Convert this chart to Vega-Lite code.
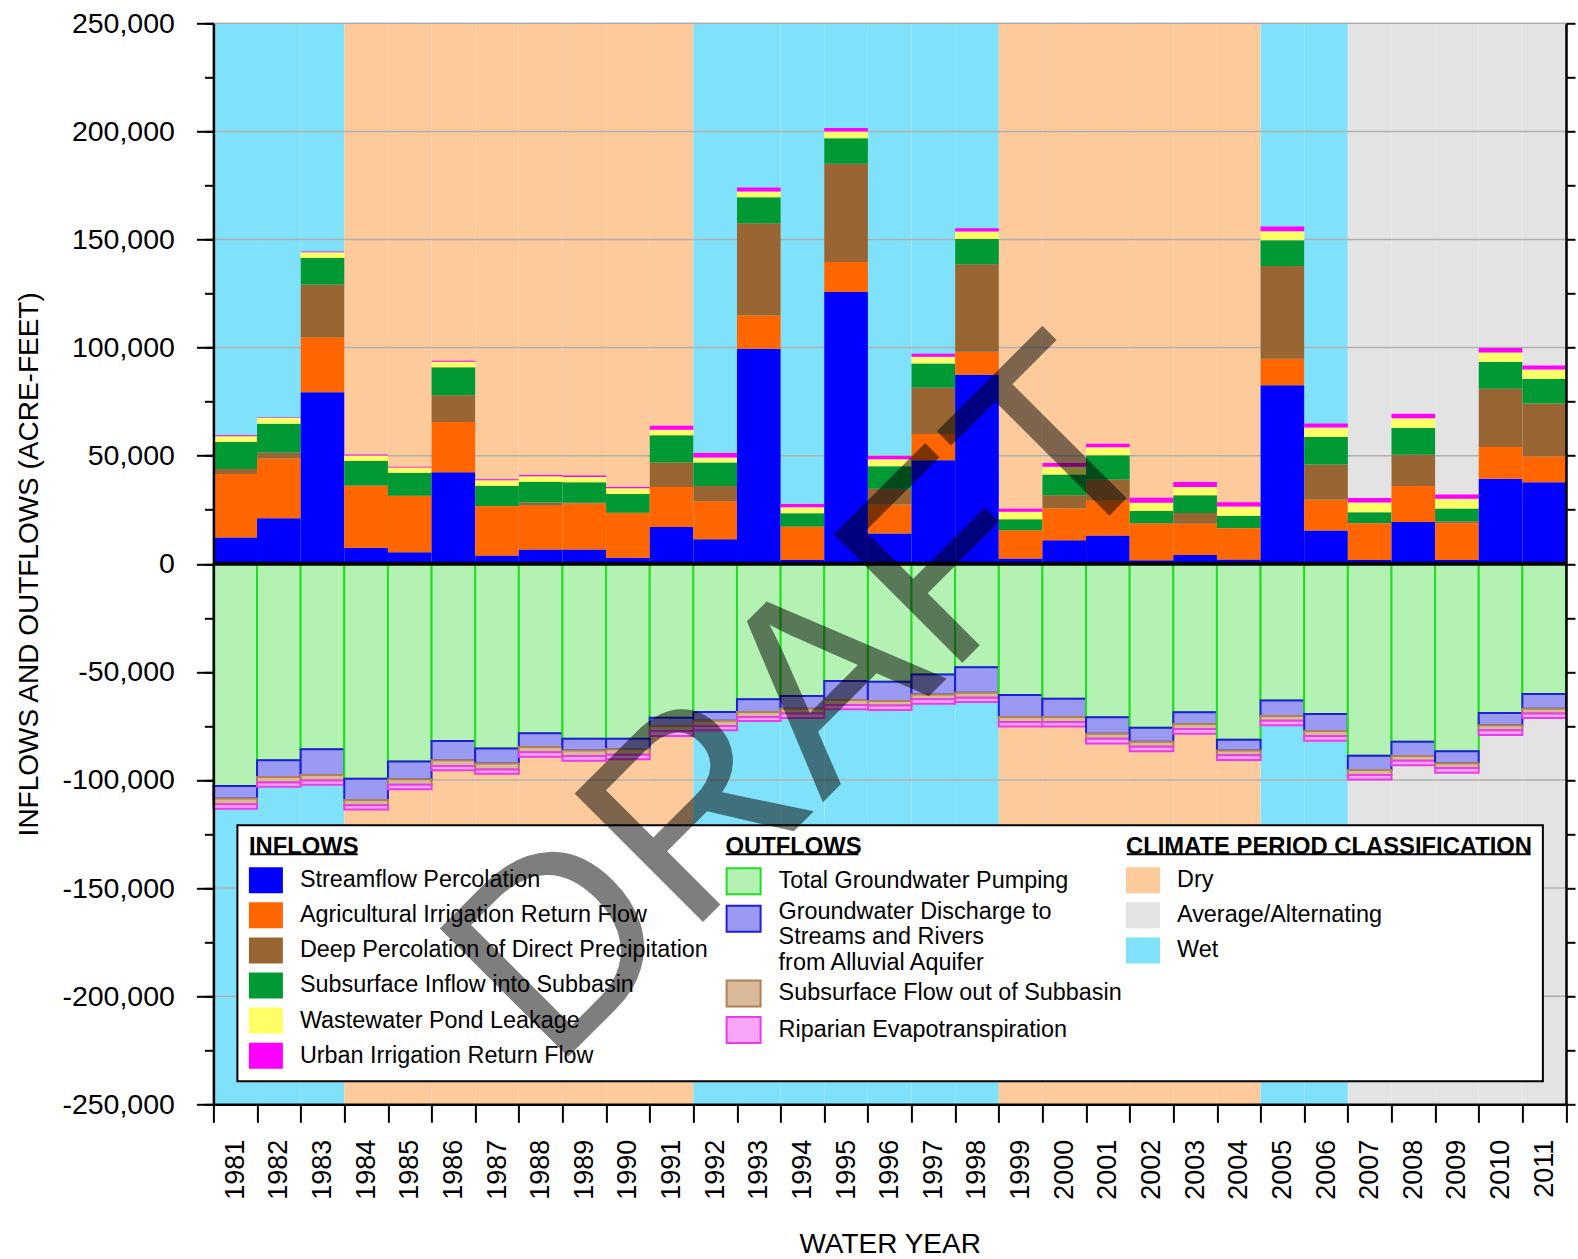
{
  "$schema": "https://vega.github.io/schema/vega-lite/v6.json",
  "width": 1352.6,
  "height": 1081,
  "autosize": {"type": "none"},
  "padding": {"left": 213.4, "top": 23.3, "right": 12, "bottom": 155},
  "background": "white",
  "config": {
    "view": {"stroke": null},
    "font": "Liberation Sans",
    "axis": {"labelFont": "Liberation Sans", "titleFont": "Liberation Sans"},
    "legend": {
      "orient": "none",
      "padding": 0,
      "titleFont": "Liberation Sans",
      "titleFontSize": 23.8,
      "titleFontWeight": "bold",
      "titleColor": "black",
      "titleLimit": 1000,
      "titlePadding": 4.6,
      "labelFont": "Liberation Sans",
      "labelFontSize": 23.4,
      "labelColor": "black",
      "labelLimit": 1000,
      "labelOffset": 17,
      "symbolType": "M-1,-0.765H1V0.765H-1Z",
      "symbolSize": 1156,
      "symbolStrokeWidth": 0,
      "symbolOpacity": 1,
      "rowPadding": 4.1
    }
  },
  "datasets": {
    "climate": [
      {"year": 1981, "period": "Wet"}, {"year": 1982, "period": "Wet"}, {"year": 1983, "period": "Wet"},
      {"year": 1984, "period": "Dry"}, {"year": 1985, "period": "Dry"}, {"year": 1986, "period": "Dry"},
      {"year": 1987, "period": "Dry"}, {"year": 1988, "period": "Dry"}, {"year": 1989, "period": "Dry"},
      {"year": 1990, "period": "Dry"}, {"year": 1991, "period": "Dry"},
      {"year": 1992, "period": "Wet"}, {"year": 1993, "period": "Wet"}, {"year": 1994, "period": "Wet"},
      {"year": 1995, "period": "Wet"}, {"year": 1996, "period": "Wet"}, {"year": 1997, "period": "Wet"},
      {"year": 1998, "period": "Wet"},
      {"year": 1999, "period": "Dry"}, {"year": 2000, "period": "Dry"}, {"year": 2001, "period": "Dry"},
      {"year": 2002, "period": "Dry"}, {"year": 2003, "period": "Dry"}, {"year": 2004, "period": "Dry"},
      {"year": 2005, "period": "Wet"}, {"year": 2006, "period": "Wet"},
      {"year": 2007, "period": "Average/Alternating"}, {"year": 2008, "period": "Average/Alternating"},
      {"year": 2009, "period": "Average/Alternating"}, {"year": 2010, "period": "Average/Alternating"},
      {"year": 2011, "period": "Average/Alternating"}
    ],
    "inflowParts": [
      {"key": "SP", "label": "Streamflow Percolation", "rank": 1},
      {"key": "AG", "label": "Agricultural Irrigation Return Flow", "rank": 2},
      {"key": "DP", "label": "Deep Percolation of Direct Precipitation", "rank": 3},
      {"key": "SI", "label": "Subsurface Inflow into Subbasin", "rank": 4},
      {"key": "WW", "label": "Wastewater Pond Leakage", "rank": 5},
      {"key": "UI", "label": "Urban Irrigation Return Flow", "rank": 6}
    ],
    "outflowParts": [
      {"key": "TGP", "label": "Total Groundwater Pumping", "rank": 1},
      {"key": "GD", "label": "Groundwater Discharge to Streams and Rivers from Alluvial Aquifer", "rank": 2},
      {"key": "SF", "label": "Subsurface Flow out of Subbasin", "rank": 3},
      {"key": "RE", "label": "Riparian Evapotranspiration", "rank": 4}
    ],
    "inflows": [
      {"year": 1981, "SP": 12200, "AG": 29300, "DP": 2300, "SI": 12500, "WW": 2700, "UI": 500},
      {"year": 1982, "SP": 21100, "AG": 27600, "DP": 2800, "SI": 13300, "WW": 2600, "UI": 300},
      {"year": 1983, "SP": 79300, "AG": 25500, "DP": 24400, "SI": 12200, "WW": 2700, "UI": 300},
      {"year": 1984, "SP": 7400, "AG": 28600, "DP": 200, "SI": 11400, "WW": 2500, "UI": 500},
      {"year": 1985, "SP": 5300, "AG": 26100, "DP": 100, "SI": 10600, "WW": 2400, "UI": 400},
      {"year": 1986, "SP": 42300, "AG": 23300, "DP": 12400, "SI": 12900, "WW": 2500, "UI": 500},
      {"year": 1987, "SP": 3800, "AG": 22800, "DP": 100, "SI": 9400, "WW": 2500, "UI": 500},
      {"year": 1988, "SP": 6600, "AG": 20300, "DP": 1500, "SI": 9600, "WW": 2500, "UI": 600},
      {"year": 1989, "SP": 6600, "AG": 21300, "DP": 300, "SI": 9500, "WW": 2500, "UI": 600},
      {"year": 1990, "SP": 2800, "AG": 20700, "DP": 100, "SI": 8700, "WW": 2700, "UI": 500},
      {"year": 1991, "SP": 17000, "AG": 18500, "DP": 11300, "SI": 12700, "WW": 2500, "UI": 1800},
      {"year": 1992, "SP": 11400, "AG": 17500, "DP": 7100, "SI": 10800, "WW": 2400, "UI": 2000},
      {"year": 1993, "SP": 99500, "AG": 15500, "DP": 42500, "SI": 12000, "WW": 2700, "UI": 1800},
      {"year": 1994, "SP": 1700, "AG": 15500, "DP": 100, "SI": 6100, "WW": 2800, "UI": 1500},
      {"year": 1995, "SP": 125700, "AG": 13900, "DP": 45400, "SI": 11800, "WW": 3100, "UI": 1700},
      {"year": 1996, "SP": 14000, "AG": 13400, "DP": 7300, "SI": 10400, "WW": 3300, "UI": 1500},
      {"year": 1997, "SP": 47900, "AG": 12100, "DP": 21500, "SI": 11200, "WW": 3100, "UI": 1400},
      {"year": 1998, "SP": 87400, "AG": 10700, "DP": 40500, "SI": 11600, "WW": 3500, "UI": 1500},
      {"year": 1999, "SP": 2500, "AG": 12900, "DP": 100, "SI": 5100, "WW": 3500, "UI": 1400},
      {"year": 2000, "SP": 10900, "AG": 14700, "DP": 6100, "SI": 9600, "WW": 3600, "UI": 1700},
      {"year": 2001, "SP": 13100, "AG": 16100, "DP": 9800, "SI": 11200, "WW": 3700, "UI": 1600},
      {"year": 2002, "SP": 1600, "AG": 17100, "DP": 100, "SI": 5600, "WW": 3800, "UI": 2300},
      {"year": 2003, "SP": 4100, "AG": 14400, "DP": 5000, "SI": 8200, "WW": 3800, "UI": 2300},
      {"year": 2004, "SP": 2000, "AG": 14500, "DP": 100, "SI": 5600, "WW": 4300, "UI": 2000},
      {"year": 2005, "SP": 82600, "AG": 12200, "DP": 43000, "SI": 11900, "WW": 4100, "UI": 2200},
      {"year": 2006, "SP": 15400, "AG": 14300, "DP": 16200, "SI": 12800, "WW": 4400, "UI": 1800},
      {"year": 2007, "SP": 1700, "AG": 17000, "DP": 200, "SI": 4900, "WW": 4600, "UI": 2000},
      {"year": 2008, "SP": 19300, "AG": 16700, "DP": 14400, "SI": 12400, "WW": 4500, "UI": 2100},
      {"year": 2009, "SP": 1700, "AG": 17100, "DP": 900, "SI": 5900, "WW": 4500, "UI": 2000},
      {"year": 2010, "SP": 39300, "AG": 14700, "DP": 27000, "SI": 12400, "WW": 4300, "UI": 2100},
      {"year": 2011, "SP": 37700, "AG": 11900, "DP": 24600, "SI": 11400, "WW": 4300, "UI": 1800}
    ],
    "outflows": [
      {"year": 1981, "TGP": -102800, "GD": -5800, "SF": -2600, "RE": -2100},
      {"year": 1982, "TGP": -90900, "GD": -7700, "SF": -2600, "RE": -1900},
      {"year": 1983, "TGP": -85800, "GD": -11900, "SF": -2500, "RE": -2000},
      {"year": 1984, "TGP": -99400, "GD": -9800, "SF": -2500, "RE": -1900},
      {"year": 1985, "TGP": -91500, "GD": -8200, "SF": -2500, "RE": -2100},
      {"year": 1986, "TGP": -82000, "GD": -8900, "SF": -2600, "RE": -2000},
      {"year": 1987, "TGP": -85400, "GD": -7000, "SF": -2700, "RE": -2000},
      {"year": 1988, "TGP": -78400, "GD": -6300, "SF": -2500, "RE": -2000},
      {"year": 1989, "TGP": -80900, "GD": -5400, "SF": -2600, "RE": -2200},
      {"year": 1990, "TGP": -80900, "GD": -4900, "SF": -2500, "RE": -2100},
      {"year": 1991, "TGP": -71200, "GD": -3800, "SF": -2300, "RE": -2400},
      {"year": 1992, "TGP": -68600, "GD": -4000, "SF": -2400, "RE": -2000},
      {"year": 1993, "TGP": -62700, "GD": -5900, "SF": -2300, "RE": -1800},
      {"year": 1994, "TGP": -61200, "GD": -5800, "SF": -2200, "RE": -2100},
      {"year": 1995, "TGP": -54200, "GD": -8800, "SF": -2300, "RE": -2000},
      {"year": 1996, "TGP": -54500, "GD": -9000, "SF": -2000, "RE": -2100},
      {"year": 1997, "TGP": -51200, "GD": -9200, "SF": -2300, "RE": -2000},
      {"year": 1998, "TGP": -47800, "GD": -11800, "SF": -2300, "RE": -2000},
      {"year": 1999, "TGP": -60700, "GD": -10200, "SF": -2300, "RE": -2100},
      {"year": 2000, "TGP": -62400, "GD": -8500, "SF": -2300, "RE": -2000},
      {"year": 2001, "TGP": -71000, "GD": -7600, "SF": -2300, "RE": -2200},
      {"year": 2002, "TGP": -75800, "GD": -6500, "SF": -2300, "RE": -2100},
      {"year": 2003, "TGP": -68700, "GD": -5400, "SF": -2300, "RE": -2200},
      {"year": 2004, "TGP": -81400, "GD": -4900, "SF": -2300, "RE": -2200},
      {"year": 2005, "TGP": -63200, "GD": -7200, "SF": -2200, "RE": -2100},
      {"year": 2006, "TGP": -69500, "GD": -7800, "SF": -2400, "RE": -2100},
      {"year": 2007, "TGP": -88800, "GD": -6600, "SF": -2300, "RE": -2100},
      {"year": 2008, "TGP": -82300, "GD": -6600, "SF": -2200, "RE": -2100},
      {"year": 2009, "TGP": -86700, "GD": -5600, "SF": -2200, "RE": -2100},
      {"year": 2010, "TGP": -69000, "GD": -5700, "SF": -2300, "RE": -2200},
      {"year": 2011, "TGP": -60200, "GD": -6800, "SF": -2200, "RE": -2100}
    ]
  },
  "layer": [
    {
      "data": {"name": "climate"},
      "mark": {"type": "rect"},
      "encoding": {
        "x": {
          "field": "year",
          "type": "ordinal",
          "scale": {"paddingInner": 0, "paddingOuter": 0},
          "axis": {
            "orient": "bottom",
            "title": "WATER YEAR",
            "titleFontSize": 28,
            "titleFontWeight": "normal",
            "titleColor": "black",
            "titleX": 676.3,
            "titleY": 148,
            "titleAlign": "center",
            "titleBaseline": "alphabetic",
            "labelAngle": -90,
            "labelAlign": "right",
            "labelBaseline": "middle",
            "labelFontSize": 27,
            "labelColor": "black",
            "labelPadding": 17,
            "tickBand": "extent",
            "tickSize": 18,
            "tickWidth": 2,
            "tickColor": "black",
            "domainColor": "black",
            "domainWidth": 2.5,
            "grid": false,
            "zindex": 1
          }
        },
        "y": {"datum": 250000, "type": "quantitative", "scale": {"domain": [-250000, 250000], "nice": false, "zero": false}, "axis": null},
        "y2": {"datum": -250000},
        "color": {
          "field": "period",
          "type": "nominal",
          "scale": {"domain": ["Dry", "Average/Alternating", "Wet"], "range": ["#fdca9b", "#e3e3e3", "#80e2fa"]},
          "legend": {"title": "CLIMATE PERIOD CLASSIFICATION", "legendX": 912.6, "legendY": 811.5}
        }
      }
    },
    {
      "data": {"values": [
        {"gridValue": 250000}, {"gridValue": 200000}, {"gridValue": 150000}, {"gridValue": 100000},
        {"gridValue": 50000}, {"gridValue": -50000}, {"gridValue": -100000}, {"gridValue": -150000},
        {"gridValue": -200000}
      ]},
      "mark": {"type": "rule", "color": "#b0b0b0", "strokeWidth": 1.5},
      "encoding": {
        "y": {
          "field": "gridValue",
          "type": "quantitative",
          "scale": {"domain": [-250000, 250000], "nice": false, "zero": false},
          "axis": {
            "orient": "right",
            "values": [-250000, -225000, -200000, -175000, -150000, -125000, -100000, -75000, -50000, -25000, 0, 25000, 50000, 75000, 100000, 125000, 150000, 175000, 200000, 225000, 250000],
            "labels": false,
            "title": null,
            "tickSize": 9,
            "tickWidth": 2,
            "tickColor": "black",
            "domainColor": "black",
            "domainWidth": 2.5,
            "grid": false,
            "zindex": 1
          }
        }
      }
    },
    {
      "data": {"name": "outflows"},
      "transform": [
        {"fold": ["TGP", "GD", "SF", "RE"], "as": ["key", "acreFeet"]},
        {"lookup": "key", "from": {"data": {"name": "outflowParts"}, "key": "key", "fields": ["label", "rank"]}}
      ],
      "mark": {"type": "bar", "strokeWidth": 2},
      "encoding": {
        "x": {"field": "year", "type": "ordinal", "axis": null},
        "y": {
          "field": "acreFeet",
          "type": "quantitative",
          "stack": "zero",
          "scale": {"domain": [-250000, 250000], "nice": false, "zero": false},
          "axis": {
            "orient": "left",
            "values": [-250000, -225000, -200000, -175000, -150000, -125000, -100000, -75000, -50000, -25000, 0, 25000, 50000, 75000, 100000, 125000, 150000, 175000, 200000, 225000, 250000],
            "labels": false,
            "title": null,
            "domain": false,
            "tickSize": 9,
            "tickWidth": 2,
            "tickColor": "black",
            "grid": false,
            "zindex": 1
          }
        },
        "order": {"field": "rank", "type": "quantitative", "sort": "ascending"},
        "color": {
          "field": "label",
          "type": "nominal",
          "scale": {
            "domain": ["Total Groundwater Pumping", "Groundwater Discharge to Streams and Rivers from Alluvial Aquifer", "Subsurface Flow out of Subbasin", "Riparian Evapotranspiration"],
            "range": ["#b3f2b3", "#9a9af2", "#d9b99a", "#f7a6f7"]
          },
          "legend": {
            "title": "OUTFLOWS",
            "legendX": 512.2,
            "legendY": 811.5,
            "rowPadding": 0.6,
            "symbolStrokeWidth": 2,
            "symbolStrokeColor": {"expr": "datum.value == 'Total Groundwater Pumping' ? '#22dd22' : datum.value == 'Subsurface Flow out of Subbasin' ? '#b08058' : datum.value == 'Riparian Evapotranspiration' ? '#e83de8' : '#1f1fd6'"},
            "labelExpr": "datum.label == 'Groundwater Discharge to Streams and Rivers from Alluvial Aquifer' ? ['Groundwater Discharge to', 'Streams and Rivers', 'from Alluvial Aquifer'] : datum.label",
            "labelBaseline": {"expr": "datum.label == 'Groundwater Discharge to Streams and Rivers from Alluvial Aquifer' ? 'alphabetic' : 'middle'"}
          }
        },
        "stroke": {
          "field": "label",
          "type": "nominal",
          "scale": {
            "domain": ["Total Groundwater Pumping", "Groundwater Discharge to Streams and Rivers from Alluvial Aquifer", "Subsurface Flow out of Subbasin", "Riparian Evapotranspiration"],
            "range": ["#22dd22", "#1f1fd6", "#b08058", "#e83de8"]
          },
          "legend": null
        }
      }
    },
    {
      "data": {"name": "inflows"},
      "transform": [
        {"fold": ["SP", "AG", "DP", "SI", "WW", "UI"], "as": ["key", "acreFeet"]},
        {"lookup": "key", "from": {"data": {"name": "inflowParts"}, "key": "key", "fields": ["label", "rank"]}}
      ],
      "mark": {"type": "bar"},
      "encoding": {
        "x": {"field": "year", "type": "ordinal", "axis": null},
        "y": {
          "field": "acreFeet",
          "type": "quantitative",
          "stack": "zero",
          "scale": {"domain": [-250000, 250000], "nice": false, "zero": false},
          "axis": {
            "orient": "left",
            "values": [-250000, -200000, -150000, -100000, -50000, 0, 50000, 100000, 150000, 200000, 250000],
            "labelExpr": "replace(format(datum.value, ','), '\u2212', '-')",
            "labelFontSize": 28.5,
            "labelColor": "black",
            "labelPadding": 22,
            "title": "INFLOWS AND OUTFLOWS (ACRE-FEET)",
            "titleFontSize": 28,
            "titleFontWeight": "normal",
            "titleColor": "black",
            "titleX": -176,
            "titleY": 540.5,
            "titleAngle": -90,
            "titleAlign": "center",
            "titleBaseline": "alphabetic",
            "tickSize": 17,
            "tickWidth": 2,
            "tickColor": "black",
            "domainColor": "black",
            "domainWidth": 2.5,
            "grid": false,
            "zindex": 1
          }
        },
        "order": {"field": "rank", "type": "quantitative", "sort": "ascending"},
        "color": {
          "field": "label",
          "type": "nominal",
          "scale": {
            "domain": ["Streamflow Percolation", "Agricultural Irrigation Return Flow", "Deep Percolation of Direct Precipitation", "Subsurface Inflow into Subbasin", "Wastewater Pond Leakage", "Urban Irrigation Return Flow"],
            "range": ["#0000ff", "#ff6600", "#996633", "#009933", "#ffff66", "#ff00ff"]
          },
          "legend": {"title": "INFLOWS", "legendX": 35.5, "legendY": 811.5}
        }
      }
    },
    {
      "data": {"values": [{"level": 0}]},
      "mark": {"type": "rule", "color": "black", "strokeWidth": 4},
      "encoding": {
        "y": {"field": "level", "type": "quantitative", "axis": null}
      }
    },
    {
      "data": {"values": [{"box": "legend"}]},
      "mark": {"type": "rect", "fill": "white", "stroke": "black", "strokeWidth": 2},
      "encoding": {
        "x": {"datum": 1981, "type": "ordinal", "bandPosition": 0.55, "axis": null},
        "x2": {"datum": 2011, "bandPosition": 0.47},
        "y": {"datum": -120900, "type": "quantitative", "axis": null},
        "y2": {"datum": -239300}
      }
    },
    {
      "data": {"values": [{"underline": "INFLOWS"}]},
      "mark": {"type": "rule", "color": "black", "strokeWidth": 2},
      "encoding": {
        "x": {"datum": 1981, "type": "ordinal", "bandPosition": 0.839, "axis": null},
        "x2": {"datum": 1984, "bandPosition": 0.307},
        "y": {"datum": -134300, "type": "quantitative", "axis": null}
      }
    },
    {
      "data": {"values": [{"underline": "OUTFLOWS"}]},
      "mark": {"type": "rule", "color": "black", "strokeWidth": 2},
      "encoding": {
        "x": {"datum": 1992, "type": "ordinal", "bandPosition": 0.74, "axis": null},
        "x2": {"datum": 1995, "bandPosition": 0.786},
        "y": {"datum": -134300, "type": "quantitative", "axis": null}
      }
    },
    {
      "data": {"values": [{"underline": "CLIMATE PERIOD CLASSIFICATION"}]},
      "mark": {"type": "rule", "color": "black", "strokeWidth": 2},
      "encoding": {
        "x": {"datum": 2001, "type": "ordinal", "bandPosition": 0.933, "axis": null},
        "x2": {"datum": 2011, "bandPosition": 0.19},
        "y": {"datum": -134300, "type": "quantitative", "axis": null}
      }
    },
    {
      "data": {"values": [{"stamp": "DRAFT"}]},
      "mark": {"type": "text", "angle": 315, "fontSize": 264, "font": "Liberation Sans", "color": "black", "opacity": 0.5, "align": "center", "baseline": "middle"},
      "encoding": {
        "x": {"datum": 1994, "type": "ordinal", "bandPosition": 0.63, "axis": null},
        "y": {"datum": -65400, "type": "quantitative", "axis": null},
        "text": {"field": "stamp"}
      }
    }
  ],
  "resolve": {
    "scale": {"color": "independent"},
    "axis": {"x": "independent", "y": "independent"}
  }
}
